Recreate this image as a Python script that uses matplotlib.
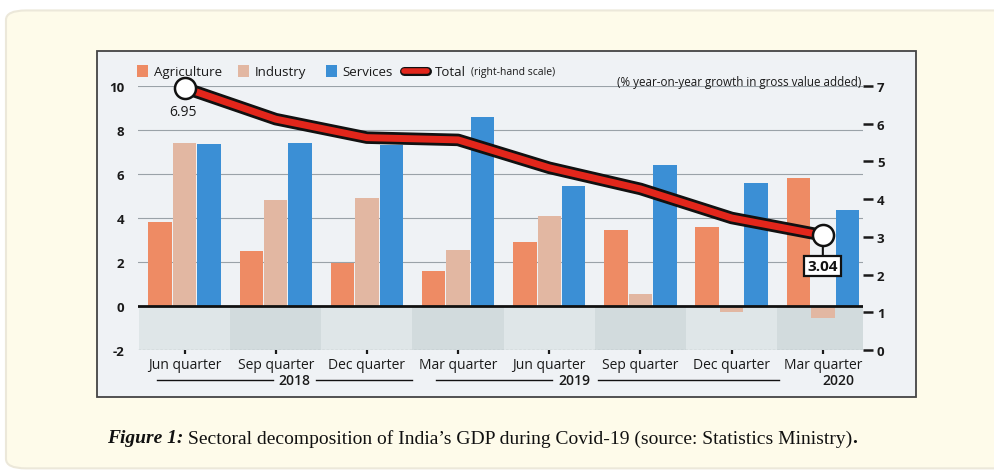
import matplotlib.pyplot as plt
import matplotlib.patheffects as pe
from matplotlib.patches import FancyBboxPatch, Rectangle
from matplotlib.lines import Line2D

quarters = ["Jun quarter", "Sep quarter", "Dec quarter", "Mar quarter",
            "Jun quarter", "Sep quarter", "Dec quarter", "Mar quarter"]
agriculture = [3.8, 2.5, 1.95, 1.6, 2.9, 3.45, 3.6, 5.8]
industry = [7.4, 4.8, 4.9, 2.55, 4.1, 0.55, -0.27, -0.55]
services = [7.35, 7.4, 7.3, 8.6, 5.45, 6.4, 5.6, 4.36]
total = [6.95, 6.12, 5.63, 5.57, 4.83, 4.27, 3.5, 3.04]
years = ["2018", "2019", "2020"]

c_agri = "#ee8b64"
c_ind = "#e2b7a2"
c_serv = "#3b8fd5"
c_line = "#e2261b"
font = "Open Sans"

fig = plt.figure(figsize=(9.95, 4.77), dpi=100)
fig.patch.set_facecolor("white")

# cream card and chart frame (kept behind the axes)
fig.patches.append(FancyBboxPatch((0.006, 0.016), 1.05, 0.96, boxstyle="round,pad=0,rounding_size=0.02",
                                  transform=fig.transFigure, facecolor="#fefbea",
                                  edgecolor="#ece8da", lw=1.5, zorder=-3))
fig.patches.append(Rectangle((0.0975, 0.1656), 0.823, 0.7254, transform=fig.transFigure,
                             facecolor="#eff2f5", edgecolor="#444444", lw=1.3, zorder=-2))

ax = fig.add_axes([0.1387, 0.2642, 0.7286, 0.5535])
ax.set_facecolor("none")
x = list(range(len(quarters)))
w = 0.258
step = 0.268

# shaded negative band, alternating per quarter
for i in x:
    ax.axvspan(i - 0.5, i + 0.5, ymin=0, ymax=2 / 12,
               color="#dfe6e8" if i % 2 == 0 else "#d2dbdd", zorder=0, lw=0)

for yv in [2, 4, 6, 8, 10]:
    ax.axhline(yv, color="#9aa2a8", lw=0.8, zorder=0.5)
ax.axhline(-2, color="#9aa2a8", lw=0.9, ls=(0, (2, 1.5)), zorder=0.5)

ax.bar([i - step for i in x], agriculture, w, color=c_agri, zorder=2)
ax.bar(x, industry, w, color=c_ind, zorder=2)
ax.bar([i + step for i in x], services, w, color=c_serv, zorder=2)
ax.axhline(0, color="#111111", lw=2, zorder=3)

ax.set_xlim(-0.51, 7.44)
ax.set_ylim(-2, 10)
ax.set_yticks([-2, 0, 2, 4, 6, 8, 10])
ax.set_yticklabels(["-2", "0", "2", "4", "6", "8", "10"])
ax.tick_params(axis="y", length=0, pad=10, labelsize=9.5, colors="#1a1a1a")
ax.set_xticks(x)
ax.set_xticklabels(quarters)
ax.tick_params(axis="x", length=3, width=1.6, pad=2, labelsize=10, colors="#1a1a1a", direction="out")
for lab in ax.get_yticklabels():
    lab.set_fontfamily(font)
    lab.set_fontweight("bold")
for lab in ax.get_xticklabels():
    lab.set_fontfamily(font)
for s in ax.spines.values():
    s.set_visible(False)

# year labels with rules
tr = ax.get_xaxis_transform()
yr_y = -0.114
ax.plot([-0.3, 0.97], [yr_y, yr_y], color="#111", lw=1, transform=tr, clip_on=False)
ax.plot([1.44, 2.5], [yr_y, yr_y], color="#111", lw=1, transform=tr, clip_on=False)
ax.text(1.2, yr_y, years[0], transform=tr, ha="center", va="center", fontsize=10,
        fontweight="semibold", family=font, color="#1a1a1a")
ax.plot([2.76, 4.03], [yr_y, yr_y], color="#111", lw=1, transform=tr, clip_on=False)
ax.plot([4.53, 6.52], [yr_y, yr_y], color="#111", lw=1, transform=tr, clip_on=False)
ax.text(4.28, yr_y, years[1], transform=tr, ha="center", va="center", fontsize=10,
        fontweight="semibold", family=font, color="#1a1a1a")
ax.text(7.17, yr_y, years[2], transform=tr, ha="center", va="center", fontsize=10,
        fontweight="semibold", family=font, color="#1a1a1a")

# right-hand scale with total line
ax2 = ax.twinx()
ax2.set_ylim(0, 7)
ax2.set_yticks(range(0, 8))
ax2.tick_params(axis="y", length=7, width=1.8, pad=3, labelsize=9.5, colors="#1a1a1a")
for lab in ax2.get_yticklabels():
    lab.set_fontfamily(font)
    lab.set_fontweight("bold")
for s in ax2.spines.values():
    s.set_visible(False)
ax2.plot(x, total, color=c_line, lw=5, solid_capstyle="butt", zorder=5, clip_on=False,
         path_effects=[pe.Stroke(linewidth=9, foreground="#111111"), pe.Normal()])
ax2.scatter([x[0], x[-1]], [total[0], total[-1]], s=230, facecolor="white",
            edgecolor="#111111", linewidth=1.8, zorder=6, clip_on=False)
ax2.annotate(f"{total[0]:.2f}", (x[0], total[0]), xytext=(-1, -17), textcoords="offset points",
             ha="center", va="center", fontsize=10, family=font, color="#1a1a1a")
ax2.annotate(f"{total[-1]:.2f}", (x[-1], total[-1]), xytext=(0, -22), textcoords="offset points",
             ha="center", va="center", fontsize=11, fontweight="bold", family=font, color="#111",
             bbox=dict(boxstyle="square,pad=0.22", facecolor="white", edgecolor="#111", lw=1.6),
             arrowprops=dict(arrowstyle="-", color="#111", lw=1.5, shrinkA=0, shrinkB=7))

# legend row
ly = 0.849
def legend_box(xf, color):
    fig.patches.append(Rectangle((xf, ly - 0.0115), 0.0115, 0.024, transform=fig.transFigure,
                                 facecolor=color, edgecolor="none", zorder=3))

legend_box(0.1377, c_agri)
fig.text(0.155, ly, "Agriculture", fontsize=9.5, family=font, va="center", color="#1a1a1a")
legend_box(0.2392, c_ind)
fig.text(0.2565, ly, "Industry", fontsize=9.5, family=font, va="center", color="#1a1a1a")
legend_box(0.3276, c_serv)
fig.text(0.3445, ly, "Services", fontsize=9.5, family=font, va="center", color="#1a1a1a")
fig.lines.append(Line2D([0.406, 0.429], [ly, ly], transform=fig.transFigure, color=c_line, lw=4,
                        solid_capstyle="round",
                        path_effects=[pe.Stroke(linewidth=6.5, foreground="#111", capstyle="round"), pe.Normal()]))
fig.text(0.437, ly, "Total", fontsize=9.5, family=font, va="center", color="#1a1a1a")
fig.text(0.473, ly - 0.002, "(right-hand scale)", fontsize=7.5, family=font, va="center", color="#1a1a1a")
fig.text(0.866, 0.828, "(% year-on-year growth in gross value added)", fontsize=8.4, family=font,
         ha="right", va="center", color="#1a1a1a")

# caption, laid out piece by piece
fig.canvas.draw()
renderer = fig.canvas.get_renderer()
cap_y = 0.08
t1 = fig.text(0.108, cap_y, "Figure 1:", fontsize=14, family="Liberation Serif", fontweight="bold",
              fontstyle="italic", va="center", color="#111")
x_next = fig.transFigure.inverted().transform((t1.get_window_extent(renderer).x1 + 4, 0))[0]
t2 = fig.text(x_next, cap_y, "Sectoral decomposition of India\u2019s GDP during Covid-19 (source: Statistics Ministry)",
              fontsize=14, family="Liberation Serif", va="center", color="#111")
x_next = fig.transFigure.inverted().transform((t2.get_window_extent(renderer).x1, 0))[0]
fig.text(x_next, cap_y, ".", fontsize=14, family="Liberation Serif", fontweight="bold",
         va="center", color="#111")

fig.savefig("out.png", dpi=100, facecolor=fig.get_facecolor())
